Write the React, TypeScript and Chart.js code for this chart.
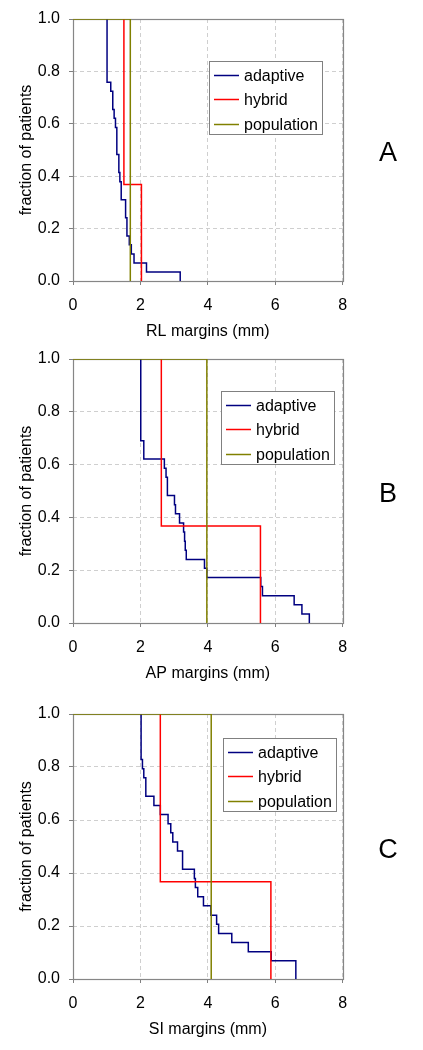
import React, { useEffect, useRef } from "react";
import { Chart, registerables } from "chart.js";

Chart.register(...registerables);

// ---------- data ----------
const seriesNames = ["adaptive", "hybrid", "population"];
const seriesColors = ["#000080", "#ff0000", "#808000"];
const panelLetters = ["A", "B", "C"];
const xAxisTitles = ["RL margins (mm)", "AP margins (mm)", "SI margins (mm)"];
const yAxisTitle = "fraction of patients";
const xTickValues = [0, 2, 4, 6, 8];
const yTickValues = [0, 0.2, 0.4, 0.6, 0.8, 1.0];

// Panel A (RL)
const adaptiveAX = [1.01, 1.01, 1.12, 1.18, 1.22, 1.26, 1.3, 1.36, 1.39, 1.43, 1.56, 1.6, 1.67, 1.73, 1.81, 2.18, 3.18];
const adaptiveAY = [1.0, 0.759, 0.724, 0.655, 0.621, 0.586, 0.483, 0.414, 0.379, 0.31, 0.241, 0.172, 0.138, 0.103, 0.069, 0.034, 0.0];
const hybridAX = [1.51, 1.51, 2.03];
const hybridAY = [1.0, 0.368, 0.0];
const populationAX = [0, 1.7];
const populationAY = [1.0, 0.0];

// Panel B (AP)
const adaptiveBX = [2.01, 2.01, 2.1, 2.71, 2.76, 2.8, 3.01, 3.04, 3.16, 3.28, 3.31, 3.33, 3.36, 3.9, 3.97, 5.57, 5.62, 6.56, 6.79, 7.01];
const adaptiveBY = [1.0, 0.69, 0.621, 0.586, 0.552, 0.483, 0.448, 0.414, 0.379, 0.345, 0.31, 0.276, 0.241, 0.207, 0.172, 0.138, 0.103, 0.069, 0.034, 0.0];
const hybridBX = [2.62, 2.62, 5.56];
const hybridBY = [1.0, 0.367, 0.0];
const populationBX = [0, 3.97];
const populationBY = [1.0, 0.0];

// Panel C (SI)
const adaptiveCX = [2.02, 2.02, 2.06, 2.1, 2.16, 2.4, 2.59, 2.82, 2.9, 2.96, 3.1, 3.25, 3.6, 3.63, 3.7, 3.87, 4.09, 4.26, 4.32, 4.71, 5.2, 5.88, 6.61];
const adaptiveCY = [1.0, 0.828, 0.793, 0.759, 0.69, 0.655, 0.621, 0.586, 0.552, 0.517, 0.483, 0.414, 0.379, 0.345, 0.31, 0.276, 0.241, 0.207, 0.172, 0.138, 0.103, 0.069, 0.0];
const hybridCX = [2.59, 2.59, 5.87];
const hybridCY = [1.0, 0.367, 0.0];
const populationCX = [0, 4.1];
const populationCY = [1.0, 0.0];

// ---------- layout ----------
const FONT = "'Liberation Sans', Arial, Helvetica, sans-serif";
const W = 423;

type PanelCfg = {
  idx: number;
  top: number;
  height: number;
  legendDX: number;
  legendDY: number;
  series: [number[], number[]][];
};

const panels: PanelCfg[] = [
  {
    idx: 0, top: 0, height: 347, legendDX: 136, legendDY: 42,
    series: [[adaptiveAX, adaptiveAY], [hybridAX, hybridAY], [populationAX, populationAY]],
  },
  {
    idx: 1, top: 340, height: 349, legendDX: 148, legendDY: 32,
    series: [[adaptiveBX, adaptiveBY], [hybridBX, hybridBY], [populationBX, populationBY]],
  },
  {
    idx: 2, top: 695, height: 350, legendDX: 150, legendDY: 24,
    series: [[adaptiveCX, adaptiveCY], [hybridCX, hybridCY], [populationCX, populationCY]],
  },
];

const decorPlugin = {
  id: "decor",
  beforeDatasetsDraw(chart: any) {
    const { ctx, chartArea: a } = chart;
    ctx.save();
    ctx.strokeStyle = "#868686";
    ctx.lineWidth = 1.2;
    ctx.strokeRect(Math.round(a.left) + 0.5, Math.round(a.top) + 0.5, Math.round(a.right - a.left), Math.round(a.bottom - a.top));
    ctx.restore();
  },
  afterDraw(chart: any, _args: any, opts: any) {
    const { ctx, chartArea: a } = chart;
    const lx = Math.round(a.left + opts.legendDX);
    const ly = Math.round(a.top + opts.legendDY);
    const lw = 113;
    const lh = 73;
    ctx.save();
    ctx.fillStyle = "#ffffff";
    ctx.fillRect(lx, ly, lw, lh);
    ctx.strokeStyle = "#808080";
    ctx.lineWidth = 1;
    ctx.strokeRect(lx + 0.5, ly + 0.5, lw, lh);
    ctx.font = `16px ${FONT}`;
    ctx.textBaseline = "middle";
    ctx.textAlign = "left";
    chart.data.datasets.forEach((ds: any, i: number) => {
      const y = Math.round(ly + 14 + i * 24.3) + 0.5;
      ctx.strokeStyle = ds.borderColor;
      ctx.lineWidth = 1.5;
      ctx.beginPath();
      ctx.moveTo(lx + 5, y);
      ctx.lineTo(lx + 30, y);
      ctx.stroke();
      ctx.fillStyle = "#000";
      ctx.fillText(ds.label, lx + 35, y + 1);
    });
    ctx.font = `27px ${FONT}`;
    ctx.textAlign = "center";
    ctx.fillStyle = "#000";
    ctx.fillText(opts.letter, 388, (a.top + a.bottom) / 2 + 4);
    ctx.restore();
  },
};

function Panel({ cfg }: { cfg: PanelCfg }) {
  const ref = useRef<HTMLCanvasElement>(null);
  useEffect(() => {
    if (!ref.current) return;
    const datasets = cfg.series.map(([xs, ys], i) => ({
      label: seriesNames[i],
      data: xs.map((x, j) => ({ x, y: ys[j] })),
      borderColor: seriesColors[i],
      backgroundColor: seriesColors[i],
      borderWidth: 1.5,
      pointRadius: 0,
      pointHoverRadius: 0,
      stepped: "before" as const,
      fill: false,
      order: 2 - i,
    }));
    const chart = new Chart(ref.current, {
      type: "line",
      data: { datasets },
      plugins: [decorPlugin],
      options: {
        animation: false,
        responsive: false,
        devicePixelRatio: 1,
        events: [],
        layout: { padding: { top: 19, left: 0, right: W - 342.7, bottom: 0 } },
        plugins: {
          legend: { display: false },
          tooltip: { enabled: false },
          decor: { legendDX: cfg.legendDX, legendDY: cfg.legendDY, letter: panelLetters[cfg.idx] },
        } as any,
        scales: {
          x: {
            type: "linear",
            min: 0,
            max: 8,
            afterBuildTicks: (s: any) => {
              s.ticks = xTickValues.map((v) => ({ value: v }));
            },
            afterFit: (s: any) => {
              s.height = 66;
            },
            grid: { color: "#cfcfcf", lineWidth: 1, tickColor: "#808080", tickLength: 4, tickWidth: 1 },
            border: { display: false, dash: [4, 3] },
            ticks: {
              color: "#000",
              font: { size: 16, family: FONT },
              padding: 11,
              maxRotation: 0,
              autoSkip: false,
              callback: (v: any) => String(v),
            },
            title: {
              display: true,
              text: xAxisTitles[cfg.idx],
              color: "#000",
              font: { size: 16, family: FONT },
              padding: { top: 0, bottom: 6 },
            },
          },
          y: {
            type: "linear",
            min: 0,
            max: 1,
            afterBuildTicks: (s: any) => {
              s.ticks = yTickValues.map((v) => ({ value: v }));
            },
            afterFit: (s: any) => {
              s.width = 73;
            },
            grid: { color: "#cfcfcf", lineWidth: 1, tickColor: "#808080", tickLength: 4, tickWidth: 1 },
            border: { display: false, dash: [4, 3] },
            ticks: {
              color: "#000",
              font: { size: 16, family: FONT },
              padding: 9,
              autoSkip: false,
              callback: (v: any) => Number(v).toFixed(1),
            },
            title: {
              display: true,
              text: yAxisTitle,
              color: "#000",
              font: { size: 16, family: FONT },
              padding: { top: 17, bottom: 0 },
            },
          },
        },
      },
    } as any);
    return () => chart.destroy();
  }, [cfg]);
  return (
    <canvas
      ref={ref}
      width={W}
      height={cfg.height}
      style={{ position: "absolute", left: 0, top: cfg.top, width: W, height: cfg.height }}
    />
  );
}

export default function App() {
  return (
    <div style={{ position: "absolute", left: 0, top: 0, width: W, height: 1050, background: "#fff" }}>
      {panels.map((p) => (
        <Panel key={p.idx} cfg={p} />
      ))}
    </div>
  );
}
